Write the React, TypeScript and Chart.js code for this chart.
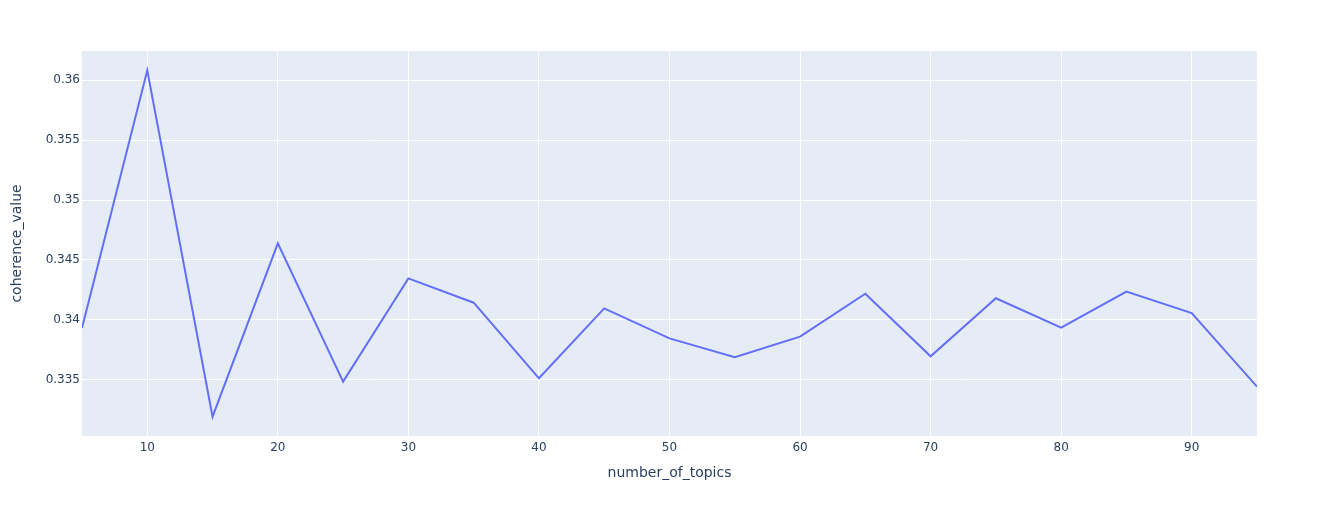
import { useEffect, useRef } from "react"
import { Chart, registerables, type ChartConfiguration, type Plugin } from "chart.js"

Chart.register(...registerables)

// values
const topics = [5, 10, 15, 20, 25, 30, 35, 40, 45, 50, 55, 60, 65, 70, 75, 80, 85, 90, 95]
const coherence = [
  0.33933, 0.36081, 0.33194, 0.34639, 0.33486, 0.34347, 0.34144, 0.33514, 0.34097, 0.33847,
  0.33689, 0.33861, 0.34219, 0.33697, 0.34181, 0.33936, 0.34236, 0.34058, 0.33444,
]
const xTicks = [10, 20, 30, 40, 50, 60, 70, 80, 90]
const yTicks = [0.335, 0.34, 0.345, 0.35, 0.355, 0.36]

const textColor = "#2a3f5f"

Chart.defaults.font.family = "'DejaVu Sans', Verdana, sans-serif"

// plotly-like plot background
const plotBackground: Plugin = {
  id: "plotBackground",
  beforeDraw(chart) {
    const { ctx, chartArea } = chart
    ctx.save()
    ctx.fillStyle = "#E5ECF6"
    ctx.fillRect(chartArea.left, chartArea.top, chartArea.right - chartArea.left, chartArea.bottom - chartArea.top)
    ctx.restore()
  },
}

export default function App() {
  const chartRef = useRef<HTMLCanvasElement>(null)
  const chartInstance = useRef<Chart | null>(null)

  useEffect(() => {
    if (!chartRef.current) return
    if (chartInstance.current) chartInstance.current.destroy()

    const ctx = chartRef.current.getContext("2d")
    if (!ctx) return

    const config: ChartConfiguration<"line"> = {
      type: "line",
      data: {
        datasets: [
          {
            label: "coherence_value",
            data: topics.map((t, i) => ({ x: t, y: coherence[i] })),
            borderColor: "#636EFA",
            borderWidth: 2,
            pointRadius: 0,
            tension: 0,
            fill: false,
          },
        ],
      },
      options: {
        responsive: false,
        animation: false,
        layout: { padding: { top: 51, right: 76, left: 0, bottom: 0 } },
        scales: {
          x: {
            type: "linear",
            min: 5,
            max: 95,
            afterBuildTicks: (axis) => {
              axis.ticks = xTicks.map((v) => ({ value: v }))
            },
            afterFit: (axis) => {
              axis.height = 73
            },
            grid: { color: "#ffffff", lineWidth: 1, drawTicks: false },
            border: { display: false },
            ticks: { color: textColor, font: { size: 12 }, padding: 5, maxRotation: 0 },
            title: {
              display: true,
              text: "number_of_topics",
              color: textColor,
              font: { size: 14 },
              padding: { top: 0, bottom: 27 },
            },
          },
          y: {
            type: "linear",
            min: 0.33033,
            max: 0.36242,
            afterBuildTicks: (axis) => {
              axis.ticks = yTicks.map((v) => ({ value: v }))
            },
            afterFit: (axis) => {
              axis.width = 82
            },
            grid: { color: "#ffffff", lineWidth: 1, drawTicks: false },
            border: { display: false },
            ticks: {
              color: textColor,
              font: { size: 12 },
              padding: 2,
              callback: (v) => String(Number(Number(v).toFixed(3))),
            },
            title: {
              display: true,
              text: "coherence_value",
              color: textColor,
              font: { size: 14 },
              padding: { top: 9, bottom: 0 },
            },
          },
        },
        plugins: {
          legend: { display: false },
          tooltip: { enabled: false },
        },
      },
      plugins: [plotBackground],
    }

    chartInstance.current = new Chart(ctx, config)

    return () => {
      if (chartInstance.current) {
        chartInstance.current.destroy()
        chartInstance.current = null
      }
    }
  }, [])

  return (
    <div style={{ position: "fixed", left: 0, top: 0, width: 1333, height: 509, background: "#fff" }}>
      <canvas ref={chartRef} width={1333} height={509} />
    </div>
  )
}
